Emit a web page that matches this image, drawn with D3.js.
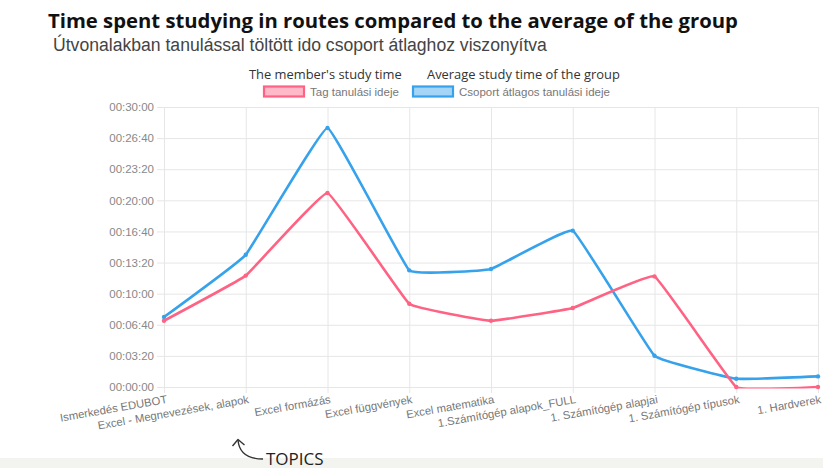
<!DOCTYPE html>
<html>
<head>
<meta charset="utf-8">
<script src="https://cdn.jsdelivr.net/npm/d3@7"></script>
<style>
  html, body { margin: 0; padding: 0; background: #fff; }
  svg { display: block; }
</style>
</head>
<body>
<svg id="chart" width="823" height="468"></svg>
<script>
// ---- data ----
const categories = ["Ismerkedés EDUBOT", "Excel - Megnevezések, alapok", "Excel formázás", "Excel függvények",
  "Excel matematika", "1.Számítógép alapok_FULL", "1. Számítógép alapjai", "1. Számítógép típusok", "1. Hardverek"];
const memberSeconds = [426, 716, 1247, 535, 426, 508, 711, 0, 0];
const groupSeconds = [450, 850, 1665, 750, 759, 1005, 201, 53, 68];
const yTickSeconds = [0, 200, 400, 600, 800, 1000, 1200, 1400, 1600, 1800];
const seriesNames = ["Tag tanulási ideje", "Csoport átlagos tanulási ideje"];
const seriesNotes = ["The member's study time", "Average study time of the group"];
const titleText = "Time spent studying in routes compared to the average of the group";
const subtitleText = "Útvonalakban tanulással töltött ido csoport átlaghoz viszonyítva";

const svg = d3.select("#chart");
const W = 823, H = 468;
const plot = { left: 164, right: 818, top: 107, bottom: 387 };

const red = "rgb(255,99,132)", blue = "rgb(54,162,235)";

// bottom band
svg.append("rect").attr("x", 0).attr("y", 458).attr("width", W).attr("height", 10).attr("fill", "#f3f3ef");

// titles
svg.append("text").attr("x", 48).attr("y", 28)
  .attr("font-family", "Open Sans").attr("font-weight", "bold").attr("font-size", 20.3).attr("fill", "#111")
  .text(titleText);
svg.append("text").attr("x", 53).attr("y", 51)
  .attr("font-family", "Liberation Sans").attr("font-size", 17.6).attr("fill", "#444")
  .text(subtitleText);

const x = d3.scalePoint().domain(categories).range([plot.left, plot.right]);
const y = d3.scaleLinear().domain([0, 1800]).range([plot.bottom, plot.top]);

const fmt = s => {
  const h = Math.floor(s / 3600), m = Math.floor((s % 3600) / 60), sec = s % 60;
  return [h, m, sec].map(v => String(v).padStart(2, "0")).join(":");
};

// y grid + labels
const yAxis = d3.axisLeft(y).tickValues(yTickSeconds).tickFormat(fmt)
  .tickSize(plot.right - plot.left + 7).tickPadding(3);
const gy = svg.append("g").attr("transform", `translate(${plot.right},0)`).call(yAxis);
gy.select(".domain").remove();
gy.selectAll("line").attr("stroke", "#e6e6e6");
gy.selectAll("text").attr("font-family", "Liberation Sans").attr("font-size", 11.5).attr("fill", "#888");

// x grid
const xAxis = d3.axisBottom(x).tickSize(-(plot.bottom - plot.top) - 6).tickFormat("");
const gx = svg.append("g").attr("transform", `translate(0,${plot.bottom + 6})`).call(xAxis);
gx.select(".domain").remove();
gx.selectAll("line").attr("stroke", "#e6e6e6");

// x labels rotated
svg.append("g").selectAll("text").data(categories).join("text")
  .attr("transform", d => `translate(${x(d) + 3},${plot.bottom + 12}) rotate(-10)`)
  .attr("text-anchor", "end").attr("dy", "0.35em")
  .attr("font-family", "Liberation Sans").attr("font-size", 11.3).attr("fill", "#777")
  .text(d => d);

// clip so curve overshoot does not dip below the zero line
svg.append("clipPath").attr("id", "plotclip").append("rect")
  .attr("x", 0).attr("y", plot.top - 5).attr("width", W).attr("height", plot.bottom - plot.top + 6.4);

// lines
const line = d3.line().x((d, i) => x(categories[i])).y(d => y(d)).curve(d3.curveCardinal.tension(0.78));
[[groupSeconds, blue], [memberSeconds, red]].forEach(([data, c]) => {
  svg.append("path").datum(data).attr("d", line).attr("fill", "none").attr("clip-path", "url(#plotclip)")
    .attr("stroke", c).attr("stroke-width", 2.6).attr("stroke-linejoin", "round");
  svg.append("g").selectAll("circle").data(data).join("circle")
    .attr("cx", (d, i) => x(categories[i])).attr("cy", d => y(d)).attr("r", 2.2).attr("fill", c);
});

// legend
const legendItems = [
  { name: seriesNames[0], note: seriesNotes[0], color: red, fill: "rgba(255,99,132,0.45)", bx: 264, tx: 310, nx: 249 },
  { name: seriesNames[1], note: seriesNotes[1], color: blue, fill: "rgba(54,162,235,0.45)", bx: 413, tx: 459, nx: 427 }
];
legendItems.forEach(it => {
  svg.append("rect").attr("x", it.bx).attr("y", 86.5).attr("width", 40).attr("height", 10)
    .attr("fill", it.fill).attr("stroke", it.color).attr("stroke-width", 2.2);
  svg.append("text").attr("x", it.tx).attr("y", 95.5)
    .attr("font-family", "Liberation Sans").attr("font-size", 11.5).attr("fill", "#777").text(it.name);
  svg.append("text").attr("x", it.nx).attr("y", 79)
    .attr("font-family", "Open Sans").attr("font-size", 12.9).attr("fill", "#333").text(it.note);
});

// TOPICS annotation
svg.append("path").attr("d", "M238,440 C239,452 246,459 263,459").attr("fill", "none")
  .attr("stroke", "#333").attr("stroke-width", 1.4);
svg.append("path").attr("d", "M232.5,446 L238,439.5 L244.5,445").attr("fill", "none")
  .attr("stroke", "#333").attr("stroke-width", 1.4).attr("stroke-linejoin", "round");
svg.append("text").attr("x", 266).attr("y", 464.5)
  .attr("font-family", "Open Sans").attr("font-size", 17).attr("fill", "#222").text("TOPICS");
</script>
</body>
</html>
